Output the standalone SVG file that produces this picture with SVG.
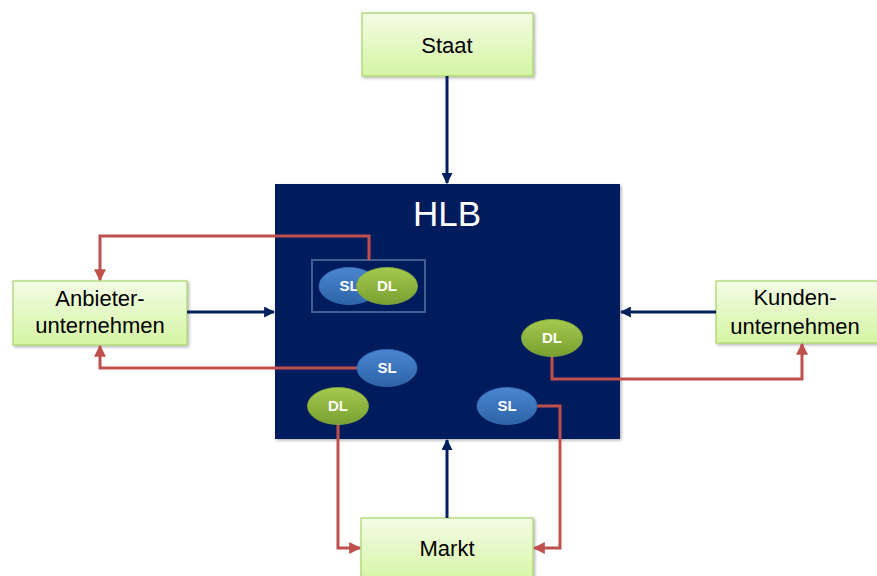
<svg xmlns="http://www.w3.org/2000/svg" width="877" height="576" viewBox="0 0 877 576">
<defs>
<linearGradient id="gBox" x1="0" y1="0" x2="0" y2="1">
<stop offset="0" stop-color="#f3fce6"/>
<stop offset="1" stop-color="#d5f5a3"/>
</linearGradient>
<linearGradient id="gSL" x1="0" y1="0" x2="0" y2="1">
<stop offset="0" stop-color="#4a86cf"/>
<stop offset="1" stop-color="#2d64a8"/>
</linearGradient>
<linearGradient id="gDL" x1="0" y1="0" x2="0" y2="1">
<stop offset="0" stop-color="#a6c94e"/>
<stop offset="1" stop-color="#78a032"/>
</linearGradient>
<filter id="sh" x="-10%" y="-10%" width="130%" height="130%">
<feDropShadow dx="1.5" dy="1.5" stdDeviation="1.5" flood-color="#000" flood-opacity="0.3"/>
</filter>
<marker id="aB" viewBox="0 0 10 10" refX="9" refY="5" markerWidth="11" markerHeight="11" markerUnits="userSpaceOnUse" orient="auto">
<path d="M0,0 L10,5 L0,10 z" fill="#002060"/>
</marker>
<marker id="aR" viewBox="0 0 10 10" refX="9" refY="5" markerWidth="12" markerHeight="12" markerUnits="userSpaceOnUse" orient="auto">
<path d="M0,0 L10,5 L0,10 z" fill="#c0504d"/>
</marker>
</defs>
<style>
.box{fill:url(#gBox);stroke:#a8d46a;stroke-width:1.2;filter:url(#sh)}
.lbl{font-family:"Liberation Sans",Arial,sans-serif;font-size:22px;fill:#000;text-anchor:middle}
.el{font-family:"Liberation Sans",Arial,sans-serif;font-size:15px;font-weight:bold;fill:#fff;text-anchor:middle}
.sl{fill:url(#gSL);stroke:#3a70b8;stroke-width:0.8}
.dl{fill:url(#gDL);stroke:#89b040;stroke-width:0.8}
.blue{fill:none;stroke:#002060;stroke-width:3;marker-end:url(#aB)}
.red{fill:none;stroke:#c0504d;stroke-width:3;marker-end:url(#aR)}
</style>
<rect width="877" height="576" fill="#fff"/>

<g id="hlb">
<rect x="275" y="184" width="345" height="255" fill="#001f5c" filter="url(#sh)"/>
<text x="447" y="226" font-family="'Liberation Sans',Arial,sans-serif" font-size="35" fill="#fff" text-anchor="middle">HLB</text>
<rect x="312" y="260" width="113" height="52" fill="none" stroke="#3f5f92" stroke-width="2"/>
</g>

<g id="staat">
<rect class="box" x="362" y="13" width="171" height="63"/>
<text class="lbl" x="447" y="53">Staat</text>
</g>
<g id="anbieter">
<rect class="box" x="13" y="281" width="174" height="64"/>
<text class="lbl" x="100" y="306">Anbieter-</text>
<text class="lbl" x="100" y="333">unternehmen</text>
</g>
<g id="kunden">
<rect class="box" x="716" y="281" width="164" height="62"/>
<text class="lbl" x="795" y="305">Kunden-</text>
<text class="lbl" x="795" y="334">unternehmen</text>
</g>
<g id="markt">
<rect class="box" x="361" y="518" width="172" height="66"/>
<text class="lbl" x="447" y="556">Markt</text>
</g>

<g id="connectors">
<path class="blue" d="M447,76 V183"/>
<path class="blue" d="M187,312 H274"/>
<path class="blue" d="M716,312 H621"/>
<path class="blue" d="M447,518 V440"/>
<path class="red" d="M369,260 V236 H100 V280"/>
<path class="red" d="M357,368 H100 V346"/>
<path class="red" d="M552,356 V379 H802 V344"/>
<path class="red" d="M338,424 V548 H360"/>
<path class="red" d="M537,406 H560 V548 H534"/>
</g>

<g id="sl1"><ellipse class="sl" cx="349" cy="286" rx="30" ry="18.5"/><text class="el" x="349" y="291">SL</text></g>
<g id="dl1"><ellipse class="dl" cx="387" cy="286" rx="30.5" ry="18.5"/><text class="el" x="387" y="291">DL</text></g>
<g id="dl2"><ellipse class="dl" cx="552" cy="338" rx="30.5" ry="18.5"/><text class="el" x="552" y="343">DL</text></g>
<g id="sl2"><ellipse class="sl" cx="387" cy="368" rx="30" ry="18.5"/><text class="el" x="387" y="373">SL</text></g>
<g id="dl3"><ellipse class="dl" cx="338" cy="406" rx="30.5" ry="18.5"/><text class="el" x="338" y="411">DL</text></g>
<g id="sl3"><ellipse class="sl" cx="507" cy="406" rx="30" ry="18.5"/><text class="el" x="507" y="411">SL</text></g>
</svg>
